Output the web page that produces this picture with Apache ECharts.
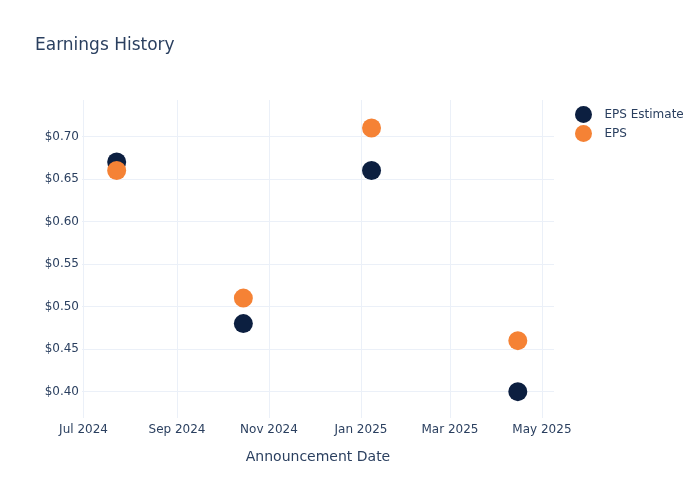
<!DOCTYPE html>
<html>
<head>
    <meta charset="utf-8">
    <title>Earnings History</title>
    <script src="https://cdn.jsdelivr.net/npm/echarts@6/dist/echarts.min.js"></script>
</head>
<body style="margin:0;background:#fff;">
    <div id="main" style="width:700px;height:500px;"></div>
    <script type="text/javascript">
        // data
        var dates = ['2024-07-23', '2024-10-15', '2025-01-08', '2025-04-15'];
        var epsEstimate = [0.67, 0.48, 0.66, 0.40];
        var epsActual = [0.66, 0.51, 0.71, 0.46];
        var monthNames = ['Jan','Feb','Mar','Apr','May','Jun','Jul','Aug','Sep','Oct','Nov','Dec'];

        var txt = '#2a3f5f';
        var font = 'DejaVu Sans';

        var myChart = echarts.init(document.getElementById('main'));

        function pairs(vals) {
            return dates.map(function (d, i) { return [d, vals[i]]; });
        }

        var option = {
            backgroundColor: '#fff',
            textStyle: { fontFamily: font },
            title: {
                text: 'Earnings History',
                left: 35, top: 37, padding: 0,
                textStyle: { color: txt, fontSize: 17, fontWeight: 'normal', fontFamily: font }
            },
            legend: {
                orient: 'vertical',
                left: 570, top: 101,
                icon: 'circle',
                itemWidth: 32, itemHeight: 17, itemGap: 2,
                textStyle: { color: txt, fontSize: 12, fontFamily: font },
                data: ['EPS Estimate', 'EPS']
            },
            grid: { left: 82, right: 146, top: 100, bottom: 82, containLabel: false },
            xAxis: {
                type: 'time',
                min: '2024-06-30',
                max: '2025-05-09',
                splitNumber: 5,
                name: 'Announcement Date',
                nameLocation: 'middle',
                nameGap: 32,
                nameTextStyle: { color: txt, fontSize: 14, fontFamily: font },
                axisLine: { show: false },
                axisTick: { show: false },
                axisLabel: {
                    color: txt, fontSize: 12, margin: 6, fontFamily: font,
                    showMinLabel: false, showMaxLabel: false,
                    formatter: function (v) {
                        var d = new Date(v);
                        return monthNames[d.getMonth()] + ' ' + d.getFullYear();
                    }
                },
                splitLine: { show: true, showMinLine: false, showMaxLine: false, lineStyle: { color: '#ebf0f8', width: 1 } }
            },
            yAxis: {
                type: 'value',
                min: 0.369,
                max: 0.743,
                splitNumber: 7,
                axisLine: { show: false },
                axisTick: { show: false },
                axisLabel: {
                    color: txt, fontSize: 12, margin: 3, fontFamily: font,
                    showMinLabel: false, showMaxLabel: false,
                    formatter: function (v) { return '$' + v.toFixed(2); }
                },
                splitLine: { show: true, showMinLine: false, showMaxLine: false, lineStyle: { color: '#ebf0f8', width: 1 } }
            },
            series: [
                {
                    name: 'EPS Estimate',
                    type: 'scatter',
                    symbolSize: 19,
                    itemStyle: { color: '#0c1f40', opacity: 1 },
                    data: pairs(epsEstimate)
                },
                {
                    name: 'EPS',
                    type: 'scatter',
                    symbolSize: 19,
                    itemStyle: { color: '#f58235', opacity: 1 },
                    data: pairs(epsActual)
                }
            ]
        };

        myChart.setOption(option);
    </script>
</body>
</html>
